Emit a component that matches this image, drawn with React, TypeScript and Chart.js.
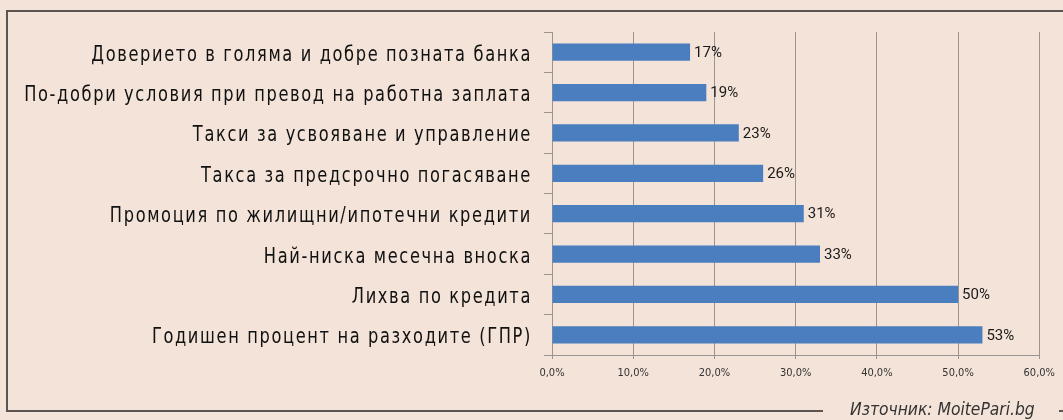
import React, { useEffect, useRef } from "react";
import { Chart, registerables } from "chart.js";

Chart.register(...registerables);

const CATEGORIES = [
  "Доверието в голяма и добре позната банка",
  "По-добри условия при превод на работна заплата",
  "Такси за усвояване и управление",
  "Такса за предсрочно погасяване",
  "Промоция по жилищни/ипотечни кредити",
  "Най-ниска месечна вноска",
  "Лихва по кредита",
  "Годишен процент на разходите (ГПР)",
];
const VALUES = [17, 19, 23, 26, 31, 33, 50, 53];
const X_MIN = 0;
const X_MAX = 60;
const X_STEP = 10;
const SOURCE = "Източник: MoitePari.bg";

const BG = "#F3E3D8";
const BAR = "#4A7EBE";
const GRID = "#9a9590";
const FRAME = "#5c5451";
const NARROW = '"DejaVu Sans Condensed", "DejaVu Sans", sans-serif';

const framePlugin = {
  id: "framePlugin",
  beforeDraw(chart: any) {
    const ctx = chart.ctx;
    ctx.save();
    ctx.fillStyle = BG;
    ctx.fillRect(0, 0, chart.width, chart.height);
    ctx.strokeStyle = FRAME;
    ctx.lineWidth = 2;
    ctx.beginPath();
    ctx.moveTo(chart.width, 11);
    ctx.lineTo(7, 11);
    ctx.lineTo(7, 411);
    ctx.lineTo(823, 411);
    ctx.moveTo(1059, 411);
    ctx.lineTo(chart.width, 411);
    ctx.stroke();
    ctx.translate(850, 415);
    ctx.scale(0.96, 1);
    ctx.font = "italic 18px " + NARROW;
    ctx.fillStyle = "#333";
    ctx.textAlign = "left";
    ctx.textBaseline = "alphabetic";
    ctx.fillText(SOURCE, 0, 0);
    ctx.restore();
  },
};

const labelsPlugin = {
  id: "labelsPlugin",
  afterDraw(chart: any) {
    const ctx = chart.ctx;
    const y = chart.scales.y;
    CATEGORIES.forEach((c, i) => {
      ctx.save();
      ctx.translate(y.right - 20, y.getPixelForValue(i) + 8.5);
      ctx.scale(0.82, 1);
      ctx.font = "22px " + NARROW;
      (ctx as any).letterSpacing = "2px";
      ctx.fillStyle = "#111";
      ctx.textAlign = "right";
      ctx.textBaseline = "alphabetic";
      ctx.fillText(c, 0, 0);
      (ctx as any).letterSpacing = "0px";
      ctx.restore();
    });
    ctx.save();
    ctx.font = "15px Roboto, sans-serif";
    ctx.fillStyle = "#1a1a1a";
    ctx.textAlign = "left";
    ctx.textBaseline = "middle";
    const meta = chart.getDatasetMeta(0);
    meta.data.forEach((bar: any, i: number) => {
      ctx.fillText(VALUES[i] + "%", bar.x + 4, bar.y + 1);
    });
    ctx.restore();
  },
};

export default function App() {
  const ref = useRef<HTMLCanvasElement | null>(null);
  useEffect(() => {
    const canvas = ref.current;
    if (!canvas) return;
    const chart = new Chart(canvas, {
      type: "bar",
      data: {
        labels: CATEGORIES,
        datasets: [
          {
            data: VALUES,
            backgroundColor: BAR,
            borderWidth: 0,
            categoryPercentage: 1,
            barPercentage: 0.43,
          },
        ],
      },
      options: {
        indexAxis: "y",
        animation: false,
        responsive: false,
        devicePixelRatio: 1,
        layout: { padding: { top: 32, right: 20, left: 0, bottom: 0 } },
        plugins: { legend: { display: false }, tooltip: { enabled: false } },
        scales: {
          x: {
            min: X_MIN,
            max: X_MAX,
            ticks: {
              stepSize: X_STEP,
              color: "#333",
              padding: 8,
              font: { family: NARROW, size: 11 },
              callback: (v: any) => Number(v).toFixed(1).replace(".", ",") + "%",
            },
            grid: { color: GRID, lineWidth: 1, tickLength: 4 },
            border: { color: GRID, width: 1 },
            afterFit: (s: any) => {
              s.height = 65;
            },
          },
          y: {
            ticks: { display: false },
            grid: { offset: true, drawOnChartArea: false, color: GRID, tickLength: 8 },
            border: { color: GRID, width: 1 },
            afterFit: (s: any) => {
              s.width = 552;
            },
          },
        },
      },
      plugins: [framePlugin, labelsPlugin],
    });
    return () => chart.destroy();
  }, []);
  return (
    <div style={{ position: "fixed", left: 0, top: 0, width: 1063, height: 420, background: BG }}>
      <canvas ref={ref} width={1063} height={420} />
    </div>
  );
}
